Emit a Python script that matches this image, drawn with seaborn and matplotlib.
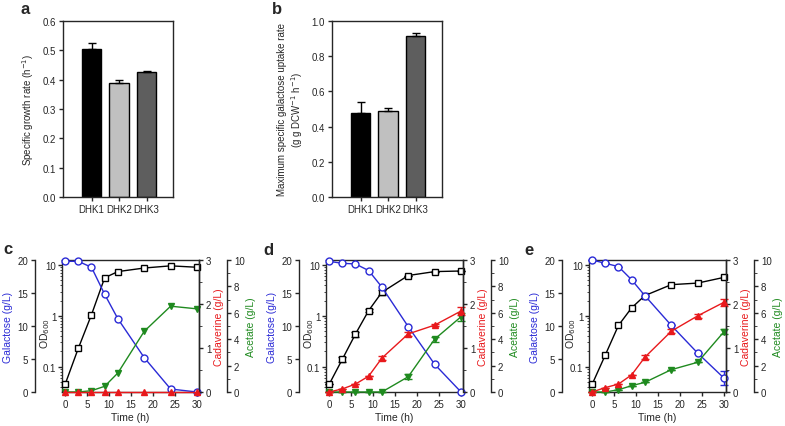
import numpy as np
import pandas as pd
import matplotlib
matplotlib.use('Agg')
import matplotlib.pyplot as plt
import seaborn as sns
from matplotlib.ticker import LogLocator, NullFormatter, MultipleLocator, FixedLocator

sns.set_style('ticks')
plt.rcParams['font.family'] = ['Liberation Sans', 'DejaVu Sans']
plt.rcParams['axes.linewidth'] = 1.0

# bar panels (a, b)
strains = ['DHK1', 'DHK2', 'DHK3']
bar_colors = ['#000000', '#c0c0c0', '#5e5e5e']
growth_rate = [0.505, 0.387, 0.425]
growth_err = [0.02, 0.013, 0.004]
uptake_rate = [0.48, 0.488, 0.915]
uptake_err = [0.06, 0.02, 0.015]

# time courses (c, d, e)
time_h = [0, 3, 6, 9, 12, 18, 24, 30]

gal_c = [19.8, 19.8, 18.9, 14.8, 11.1, 5.2, 0.45, 0.0]
od_c = [0.045, 0.23, 1.05, 5.6, 7.4, 8.7, 9.6, 9.0]
cad_c = [0.0, 0.0, 0.0, 0.0, 0.0, 0.0, 0.0, 0.0]
ace_c = [0.0, 0.0, 0.1, 0.43, 1.44, 4.6, 6.5, 6.3]

gal_d = [19.8, 19.5, 19.4, 18.4, 15.9, 9.9, 4.2, 0.0]
od_d = [0.045, 0.14, 0.44, 1.27, 2.9, 6.2, 7.4, 7.6]
cad_d = [0.0, 0.07, 0.18, 0.36, 0.77, 1.32, 1.52, 1.84]
ace_d = [0.0, 0.0, 0.0, 0.0, 0.0, 1.16, 4.0, 5.7]
od_err_d = [0.0, 0.015, 0.05, 0.1, 0.3, 0.0, 0.0, 0.0]
cad_err_d = [0.0, 0.0, 0.0, 0.0, 0.04, 0.05, 0.03, 0.1]
ace_err_d = [0.0, 0.0, 0.0, 0.0, 0.0, 0.2, 0.2, 0.3]

gal_e = [20.0, 19.5, 19.0, 17.0, 14.6, 10.1, 5.9, 2.1]
od_e = [0.045, 0.17, 0.65, 1.44, 2.5, 4.1, 4.4, 5.7]
cad_e = [0.0, 0.1, 0.18, 0.39, 0.79, 1.38, 1.73, 2.04]
ace_e = [0.0, 0.0, 0.17, 0.48, 0.73, 1.69, 2.25, 4.57]
gal_err_e = [0.0, 0.0, 0.0, 0.0, 0.0, 0.0, 0.0, 1.1]
cad_err_e = [0.0, 0.0, 0.0, 0.0, 0.04, 0.05, 0.04, 0.08]
ace_err_e = [0.0, 0.0, 0.0, 0.0, 0.0, 0.0, 0.0, 0.2]

zeros = [0.0] * len(time_h)

BLUE = '#2a2ad6'
RED = '#e8191c'
GREEN = '#1f8a1f'

W, H = 785, 427
fig = plt.figure(figsize=(W / 100, H / 100), dpi=100)


def px_rect(left, top, right, bottom):
    return [left / W, (H - bottom) / H, (right - left) / W, (bottom - top) / H]


def bar_panel(left, values, errs, ymax, step, ylabel, label_off):
    ax = fig.add_axes(px_rect(left, 22, left + 110, 198))
    df = pd.DataFrame({'strain': strains, 'value': values})
    sns.barplot(data=df, x='strain', y='value', hue='strain',
                palette=dict(zip(strains, bar_colors)), legend=False,
                width=0.7, edgecolor='black', linewidth=1, ax=ax)
    ax.errorbar(range(len(strains)), values, yerr=[[0] * len(errs), errs],
                fmt='none', ecolor='black', elinewidth=1, capsize=3,
                capthick=1, zorder=5)
    ax.set_xlim(-1.04, 2.96)
    ax.set_ylim(0, ymax)
    ticks = np.arange(0, ymax + 1e-9, step)
    ax.set_yticks(ticks)
    ax.set_yticklabels([f'{v:.1f}' for v in ticks])
    ax.set_xlabel('')
    ax.set_ylabel(ylabel, fontsize=7, linespacing=1.2)
    ax.yaxis.set_label_coords(label_off / 110, 0.5)
    ax.tick_params(labelsize=7, length=3, width=1, pad=2)
    for s in ax.spines.values():
        s.set_visible(True)
        s.set_linewidth(1)
    return ax


bar_panel(63, growth_rate, growth_err, 0.6, 0.1,
          'Specific growth rate (h$^{-1}$)', -27)
bar_panel(332, uptake_rate, uptake_err, 1.0, 0.2,
          'Maximum specific galactose uptake rate\n(g g DCW$^{-1}$ h$^{-1}$)', -27)


def series(ax, y, err, color, marker, filled, ms):
    sns.lineplot(x=time_h, y=y, ax=ax, color=color, marker=marker,
                 markersize=ms, markerfacecolor=color if filled else 'white',
                 markeredgecolor=color, markeredgewidth=1, linewidth=1,
                 clip_on=False, zorder=3)
    if any(e > 0 for e in err):
        ax.errorbar(time_h, y, yerr=err, fmt='none', ecolor=color,
                    elinewidth=1, capsize=3, capthick=1, clip_on=False)


def time_panel(left, gal, od, cad, ace, gal_err, od_err, cad_err, ace_err):
    width = 137
    ax = fig.add_axes(px_rect(left, 261, left + width, 393))
    ax_gal = ax.twinx()
    ax_ace = ax.twinx()
    ax_cad = ax.twinx()

    series(ax, od, od_err, 'black', 's', False, 4.5)
    series(ax_gal, gal, gal_err, BLUE, 'o', False, 5)
    series(ax_ace, ace, ace_err, GREEN, 'v', True, 5)
    series(ax_cad, cad, cad_err, RED, '^', True, 5)

    ax.set_xlim(-0.7, 30.45)
    ax.set_xticks([0, 5, 10, 15, 20, 25, 30])
    ax.set_xlabel('Time (h)', fontsize=7.5, labelpad=2)

    # OD600, log scale on the main left spine
    ax.set_yscale('log')
    ax.set_ylim(0.032, 12.5)
    ax.yaxis.set_major_locator(FixedLocator([0.1, 1, 10]))
    ax.set_yticklabels(['0.1', '1', '10'])
    ax.yaxis.set_minor_locator(LogLocator(base=10, subs=np.arange(2, 10)))
    ax.yaxis.set_minor_formatter(NullFormatter())
    ax.set_ylabel('OD$_{600}$', fontsize=7.5)
    ax.yaxis.set_label_coords(-10.5 / width, 0.45)
    ax.tick_params(axis='y', which='minor', length=1.8, width=0.6)
    ax.tick_params(right=False, which='both')
    ax.spines['right'].set_visible(True)
    ax.spines['top'].set_visible(True)

    # galactose, outer left
    ax_gal.set_ylim(0, 20)
    ax_gal.set_yticks([0, 5, 10, 15, 20])
    ax_gal.yaxis.set_ticks_position('left')
    ax_gal.yaxis.set_label_position('left')
    ax_gal.spines['left'].set_position(('outward', 27 * 0.72))
    for s in ['right', 'top', 'bottom']:
        ax_gal.spines[s].set_visible(False)
    ax_gal.spines['left'].set_visible(True)
    ax_gal.set_ylabel('Galactose (g/L)', color=BLUE, fontsize=7.5)
    ax_gal.yaxis.set_label_coords(-49 / width, 0.5)

    # cadaverine, right spine
    ax_cad.set_ylim(0, 3)
    ax_cad.set_yticks([0, 1, 2, 3])
    ax_cad.yaxis.set_minor_locator(MultipleLocator(0.5))
    for s in ['left', 'top', 'bottom']:
        ax_cad.spines[s].set_visible(False)
    ax_cad.set_ylabel('Cadaverine (g/L)', color=RED, fontsize=7.5)
    ax_cad.yaxis.set_label_coords(1 + 15 / width, 0.5)
    ax_cad.tick_params(axis='y', which='minor', length=1.8, width=0.6)

    # acetate, outer right
    ax_ace.set_ylim(0, 10)
    ax_ace.set_yticks([0, 2, 4, 6, 8, 10])
    ax_ace.yaxis.set_minor_locator(MultipleLocator(1))
    ax_ace.spines['right'].set_position(('outward', 28 * 0.72))
    for s in ['left', 'top', 'bottom']:
        ax_ace.spines[s].set_visible(False)
    ax_ace.set_ylabel('Acetate (g/L)', color=GREEN, fontsize=7.5)
    ax_ace.yaxis.set_label_coords(1 + 47 / width, 0.5)
    ax_ace.tick_params(axis='y', which='minor', length=1.8, width=0.6)

    for a in [ax, ax_gal, ax_cad, ax_ace]:
        a.tick_params(which='major', labelsize=7, length=3, width=1, pad=2)
        a.set_xlim(-0.7, 30.45)
        for s in a.spines.values():
            s.set_linewidth(1)
    ax.tick_params(axis='y', which='major', pad=1)


time_panel(62, gal_c, od_c, cad_c, ace_c, zeros, zeros, zeros, zeros)
time_panel(326, gal_d, od_d, cad_d, ace_d, zeros, od_err_d, cad_err_d, ace_err_d)
time_panel(589, gal_e, od_e, cad_e, ace_e, gal_err_e, zeros, cad_err_e, ace_err_e)

for letter, x, y in [('a', 25, 10), ('b', 277, 10), ('c', 8, 250),
                     ('d', 268, 251), ('e', 529, 251)]:
    fig.text(x / W, 1 - y / H, letter, fontsize=12, fontweight='bold',
             ha='center', va='center')

fig.savefig('out.png', dpi=100)
